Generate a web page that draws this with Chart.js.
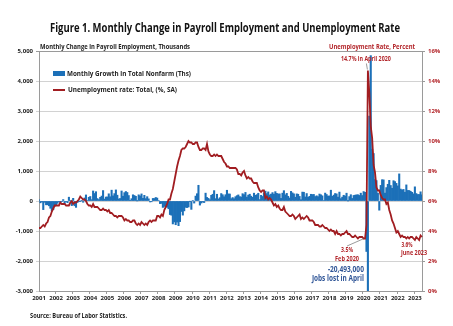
<!DOCTYPE html>
<html>
<head>
<meta charset="utf-8">
<script src="https://cdn.jsdelivr.net/npm/chart.js@4/dist/chart.umd.min.js"></script>
<style>
  body { margin: 0; background: #fff; }
  canvas { display: block; }
</style>
</head>
<body>
<canvas id="chart" width="453" height="326"></canvas>
<script>
// tick labels: one per year, January of each
const years = ['2001','2002','2003','2004','2005','2006','2007','2008','2009','2010','2011','2012',
  '2013','2014','2015','2016','2017','2018','2019','2020','2021','2022','2023'];

// monthly change in total nonfarm payrolls, thousands (Jan 2001 - Jun 2023)
const payroll = [
  42, -61, -31, -287, -44, -127, -125, -160, -242, -328, -292, -178,      // 2001
  -133, -77, -25, -83, -9, 48, -92, -15, -55, 127, 9, -154,               // 2002
  90, -159, -213, -49, -5, -2, 23, -42, 101, 202, 15, 124,                // 2003
  150, 44, 334, 250, 310, 81, 47, 122, 164, 348, 64, 132,                 // 2004
  136, 240, 142, 361, 171, 246, 370, 194, 69, 83, 334, 160,               // 2005
  278, 316, 284, 182, 22, 77, 207, 183, 156, 2, 206, 170,                 // 2006
  236, 90, 189, 79, 144, 72, -31, -26, 85, 83, 117, 98,                   // 2007
  15, -86, -80, -214, -182, -172, -210, -259, -452, -474, -765, -697,     // 2008
  -791, -703, -823, -687, -349, -471, -329, -212, -219, -200, -7, -279,   // 2009
  14, -69, 164, 243, 524, -137, -68, -36, -52, 262, 119, 87,              // 2010
  43, 189, 225, 346, 77, 225, 69, 110, 248, 209, 141, 209,                // 2011
  358, 237, 233, 78, 115, 76, 143, 177, 203, 146, 132, 244,               // 2012
  211, 286, 130, 197, 226, 162, 122, 261, 190, 212, 258, 47,              // 2013
  190, 151, 272, 329, 246, 304, 202, 230, 280, 227, 312, 255,             // 2014
  234, 238, 86, 262, 344, 206, 254, 157, 100, 321, 272, 239,              // 2015
  126, 237, 225, 153, 43, 297, 291, 135, 249, 124, 156, 224,              // 2016
  216, 219, 149, 174, 145, 232, 207, 173, 18, 264, 216, 162,              // 2017
  171, 360, 155, 196, 249, 237, 129, 297, 79, 130, 191, 165,              // 2018
  260, 1, 147, 210, 85, 185, 194, 207, 208, 185, 261, 184,                // 2019
  315, 289, -1683, -20493, 2830, 4846, 1726, 1583, 716, 680, 264, -306,   // 2020
  520, 710, 704, 263, 447, 557, 689, 517, 424, 677, 647, 588,             // 2021
  504, 904, 398, 368, 386, 293, 537, 352, 350, 324, 290, 239,             // 2022
  472, 248, 217, 217, 306, 209                                            // 2023
];

// unemployment rate, percent, seasonally adjusted
const unrate = [
  4.2, 4.2, 4.3, 4.4, 4.3, 4.5, 4.6, 4.9, 5.0, 5.3, 5.5, 5.7,
  5.7, 5.7, 5.7, 5.9, 5.8, 5.8, 5.8, 5.7, 5.7, 5.7, 5.9, 6.0,
  5.8, 5.9, 5.9, 6.0, 6.1, 6.3, 6.2, 6.1, 6.1, 6.0, 5.8, 5.7,
  5.7, 5.6, 5.8, 5.6, 5.6, 5.6, 5.5, 5.4, 5.4, 5.5, 5.4, 5.4,
  5.3, 5.4, 5.2, 5.2, 5.1, 5.0, 5.0, 4.9, 5.0, 5.0, 5.0, 4.9,
  4.7, 4.8, 4.7, 4.7, 4.6, 4.6, 4.7, 4.7, 4.5, 4.4, 4.5, 4.4,
  4.6, 4.5, 4.4, 4.5, 4.4, 4.6, 4.7, 4.6, 4.7, 4.7, 4.7, 5.0,
  5.0, 4.9, 5.1, 5.0, 5.4, 5.6, 5.8, 6.1, 6.1, 6.5, 6.8, 7.3,
  7.8, 8.3, 8.7, 9.0, 9.4, 9.5, 9.5, 9.6, 9.8, 10.0, 9.9, 9.9,
  9.8, 9.8, 9.9, 9.9, 9.6, 9.4, 9.4, 9.5, 9.5, 9.4, 9.8, 9.3,
  9.1, 9.0, 9.0, 9.1, 9.0, 9.1, 9.0, 9.0, 9.0, 8.8, 8.6, 8.5,
  8.3, 8.3, 8.2, 8.2, 8.2, 8.2, 8.2, 8.1, 7.8, 7.8, 7.7, 7.9,
  8.0, 7.7, 7.5, 7.6, 7.5, 7.5, 7.3, 7.2, 7.2, 7.2, 6.9, 6.7,
  6.6, 6.7, 6.7, 6.2, 6.3, 6.1, 6.2, 6.1, 5.9, 5.7, 5.8, 5.6,
  5.7, 5.5, 5.4, 5.4, 5.6, 5.3, 5.2, 5.1, 5.0, 5.0, 5.1, 5.0,
  4.8, 4.9, 5.0, 5.1, 4.8, 4.9, 4.8, 4.9, 5.0, 4.9, 4.7, 4.7,
  4.7, 4.6, 4.4, 4.4, 4.4, 4.3, 4.3, 4.4, 4.3, 4.2, 4.2, 4.1,
  4.0, 4.1, 4.0, 4.0, 3.8, 4.0, 3.8, 3.8, 3.7, 3.8, 3.8, 3.9,
  4.0, 3.8, 3.8, 3.7, 3.6, 3.6, 3.7, 3.6, 3.5, 3.6, 3.6, 3.6,
  3.5, 3.5, 4.4, 14.7, 13.2, 11.0, 10.2, 8.4, 7.9, 6.9, 6.7, 6.7,
  6.4, 6.2, 6.1, 6.1, 5.8, 5.9, 5.4, 5.1, 4.7, 4.5, 4.2, 3.9,
  4.0, 3.8, 3.6, 3.7, 3.6, 3.6, 3.5, 3.6, 3.5, 3.6, 3.6, 3.5,
  3.4, 3.6, 3.5, 3.4, 3.7, 3.6
];

const monthNames = ['Jan','Feb','Mar','Apr','May','Jun','Jul','Aug','Sep','Oct','Nov','Dec'];
const labels = payroll.map((_, i) => `${monthNames[i % 12]} ${years[Math.floor(i / 12)]}`);

const BLUE = '#1c70b8';
const RED = '#a11d21';
const LABEL_RED = '#b3262b';
const FONT = '"Open Sans", "Liberation Sans", sans-serif';

// draw a line of text squeezed to a given width (Calibri is narrower than what we have)
function txt(ctx, s, x, y, o = {}) {
  const size = o.size || 7;
  ctx.save();
  ctx.font = `${o.weight || 'bold'} ${size}px ${FONT}`;
  ctx.fillStyle = o.color || '#222';
  ctx.textBaseline = 'middle';
  ctx.textAlign = o.align || 'left';
  const w = ctx.measureText(s).width;
  const sx = o.width ? o.width / w : 1;
  ctx.translate(x, y);
  ctx.scale(sx, 1);
  ctx.fillText(s, 0, 0);
  ctx.restore();
}

const decorations = {
  id: 'decorations',
  afterDraw(chart) {
    const { ctx } = chart;
    const xs = chart.scales.x, ys = chart.scales.y, y1 = chart.scales.y1;

    txt(ctx, 'Figure 1. Monthly Change in Payroll Employment and Unemployment Rate', 225, 29,
      { size: 12, width: 350, color: '#111', align: 'center' });
    txt(ctx, 'Monthly Change in Payroll Employment, Thousands', 40, 46.5, { size: 7, width: 150, color: '#222' });
    txt(ctx, 'Unemployment Rate, Percent', 415, 46.5, { size: 7, width: 86, color: LABEL_RED, align: 'right' });

    // legend
    ctx.fillStyle = BLUE;
    ctx.fillRect(53, 71, 12, 5);
    ctx.strokeStyle = RED;
    ctx.lineWidth = 2;
    ctx.beginPath(); ctx.moveTo(53, 90); ctx.lineTo(65, 90); ctx.stroke();
    txt(ctx, chart.data.datasets[1].label, 67, 73.7, { size: 7, width: 124, color: '#222' });
    txt(ctx, chart.data.datasets[0].label, 68, 90, { size: 7, width: 109, color: '#222' });

    // annotations, anchored on the data points
    const iApr20 = labels.indexOf('Apr 2020');
    const iFeb20 = labels.indexOf('Feb 2020');
    const iJun23 = labels.indexOf('Jun 2023');
    const xApr = xs.getPixelForValue(iApr20), yPeak = y1.getPixelForValue(unrate[iApr20]);
    const xFeb = xs.getPixelForValue(iFeb20), yFeb = y1.getPixelForValue(unrate[iFeb20]);
    const xJun = xs.getPixelForValue(iJun23), yJun = y1.getPixelForValue(unrate[iJun23]);

    txt(ctx, '14.7% in April 2020', xApr - 2, yPeak - 11.5, { size: 6.5, width: 50, color: LABEL_RED, align: 'center' });
    ctx.strokeStyle = '#555';
    ctx.lineWidth = 0.6;
    ctx.beginPath(); ctx.moveTo(xApr - 1.5, yPeak - 7); ctx.lineTo(xApr - 0.5, yPeak - 1); ctx.stroke();

    txt(ctx, '3.5%', xFeb - 18, yFeb + 12, { size: 6.5, width: 12, color: LABEL_RED, align: 'center' });
    txt(ctx, 'Feb 2020', xFeb - 18, yFeb + 21, { size: 6.5, width: 24, color: LABEL_RED, align: 'center' });
    ctx.beginPath(); ctx.moveTo(xFeb - 18, yFeb + 7.5); ctx.lineTo(xFeb - 1, yFeb); ctx.stroke();

    const yJobs = ys.getPixelForValue(-2300);
    txt(ctx, '-20,493,000', xApr - 4, yJobs, { size: 8, width: 36, color: '#2f5597', align: 'right' });
    txt(ctx, 'Jobs lost in April', xApr - 4, yJobs + 8.5, { size: 8, width: 52, color: '#2f5597', align: 'right' });

    txt(ctx, '3.6%', xJun - 15, yJun + 8, { size: 6.5, width: 11, color: LABEL_RED, align: 'center' });
    txt(ctx, 'June 2023', xJun - 8, yJun + 16, { size: 6.5, width: 26, color: LABEL_RED, align: 'center' });

    txt(ctx, 'Source: Bureau of Labor Statistics.', 30, 316, { size: 6.5, width: 97, color: '#222' });
  }
};

new Chart(document.getElementById('chart'), {
  type: 'bar',
  data: {
    labels,
    datasets: [
      {
        type: 'line',
        label: 'Unemployment rate: Total, (%, SA)',
        data: unrate,
        yAxisID: 'y1',
        borderColor: RED,
        borderWidth: 1.8,
        pointRadius: 0,
        tension: 0,
        order: 0
      },
      {
        type: 'bar',
        label: 'Monthly Growth in Total Nonfarm (Ths)',
        data: payroll,
        yAxisID: 'y',
        backgroundColor: BLUE,
        barPercentage: 1,
        categoryPercentage: 1,
        order: 1
      }
    ]
  },
  options: {
    responsive: false,
    animation: false,
    layout: { padding: { top: 51, left: 0, right: 0, bottom: 0 } },
    plugins: {
      legend: { display: false },
      title: { display: false },
      tooltip: { enabled: false }
    },
    scales: {
      x: {
        type: 'category',
        offset: false,
        border: { color: '#9a9a9a' },
        grid: {
          drawOnChartArea: false,
          tickLength: 3,
          color: ctx => (ctx.index % 12 === 0 ? '#9a9a9a' : 'transparent')
        },
        ticks: {
          autoSkip: false,
          maxRotation: 0,
          minRotation: 0,
          padding: 1,
          color: '#222',
          font: { family: FONT, size: 6, weight: 'bold' },
          callback: (v, i) => (i % 12 === 0 ? years[i / 12] : '')
        },
        afterFit: s => { s.height = 35; }
      },
      y: {
        position: 'left',
        min: -3000,
        max: 5000,
        border: { color: '#9a9a9a' },
        grid: {
          tickLength: 3,
          color: ctx => (ctx.tick && ctx.tick.value === 5000 ? '#9a9a9a' : '#d2d2d2')
        },
        ticks: {
          stepSize: 1000,
          padding: 3,
          color: '#222',
          font: { family: FONT, size: 6, weight: 'bold' },
          callback: v => v.toLocaleString('en-US')
        },
        afterFit: s => { s.width = 39; }
      },
      y1: {
        position: 'right',
        min: 0,
        max: 16,
        border: { color: '#9a9a9a' },
        grid: { drawOnChartArea: false, tickLength: 3, color: '#9a9a9a' },
        ticks: {
          stepSize: 2,
          padding: 3,
          color: LABEL_RED,
          font: { family: FONT, size: 6, weight: 'bold' },
          callback: v => v + '%'
        },
        afterFit: s => { s.width = 31; }
      }
    }
  },
  plugins: [decorations]
});
</script>
</body>
</html>
